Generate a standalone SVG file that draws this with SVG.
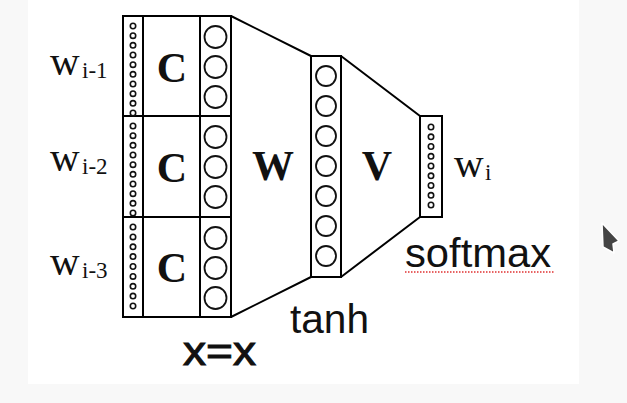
<svg xmlns="http://www.w3.org/2000/svg" width="627" height="403" viewBox="0 0 627 403">
<style>
.ln{fill:none;stroke:#000;stroke-width:2}
.big{fill:none;stroke:#111;stroke-width:1.8}
.dot{fill:none;stroke:#111;stroke-width:1.6}
.bold{font-family:"Liberation Serif",serif;font-weight:bold;font-size:42px;text-anchor:middle;fill:#111}
.lab{font-family:"Liberation Serif",serif;font-size:41px;fill:#111}
.sub{font-family:"Liberation Serif",serif;font-size:23px;fill:#111}
.sans{font-family:"Liberation Sans",sans-serif;font-size:40px;fill:#111}
</style>
<rect x="0" y="0" width="627" height="403" fill="#f8f8f8"/>
<rect x="28" y="0" width="551" height="384" fill="#fff"/>

<g id="connectors">
<path class="ln" d="M231,16 L311,56 M231,317 L311,277 M341,56 L420,116 M341,277 L420,217"/>
</g>

<g id="input-layer">
<rect class="ln" x="123" y="16" width="108" height="301"/>
<path class="ln" d="M143,16 V317 M200,16 V317 M123,116 H231 M123,217 H231"/>
<g class="dot">
<circle cx="133" cy="26" r="2.7"/><circle cx="133" cy="35.7" r="2.7"/><circle cx="133" cy="45.3" r="2.7"/><circle cx="133" cy="55" r="2.7"/><circle cx="133" cy="64.7" r="2.7"/><circle cx="133" cy="74.3" r="2.7"/><circle cx="133" cy="84" r="2.7"/><circle cx="133" cy="93.7" r="2.7"/><circle cx="133" cy="103.3" r="2.7"/><circle cx="133" cy="113" r="2.7"/>
<circle cx="133" cy="126" r="2.7"/><circle cx="133" cy="135.7" r="2.7"/><circle cx="133" cy="145.3" r="2.7"/><circle cx="133" cy="155" r="2.7"/><circle cx="133" cy="164.7" r="2.7"/><circle cx="133" cy="174.3" r="2.7"/><circle cx="133" cy="184" r="2.7"/><circle cx="133" cy="193.7" r="2.7"/><circle cx="133" cy="203.3" r="2.7"/><circle cx="133" cy="213" r="2.7"/>
<circle cx="133" cy="227" r="2.7"/><circle cx="133" cy="236.9" r="2.7"/><circle cx="133" cy="246.8" r="2.7"/><circle cx="133" cy="256.6" r="2.7"/><circle cx="133" cy="266.5" r="2.7"/><circle cx="133" cy="276.4" r="2.7"/><circle cx="133" cy="286.3" r="2.7"/><circle cx="133" cy="296.1" r="2.7"/><circle cx="133" cy="306" r="2.7"/>
</g>
<g class="big">
<circle cx="215.5" cy="37" r="11"/><circle cx="215.5" cy="67" r="11"/><circle cx="215.5" cy="97" r="11"/>
<circle cx="215.5" cy="137" r="11"/><circle cx="215.5" cy="167" r="11"/><circle cx="215.5" cy="197" r="11"/>
<circle cx="215.5" cy="238" r="11"/><circle cx="215.5" cy="268" r="11"/><circle cx="215.5" cy="298" r="11"/>
</g>
<text class="bold" x="172" y="82">C</text>
<text class="bold" x="172" y="182">C</text>
<text class="bold" x="172" y="282">C</text>
</g>

<g id="labels-in">
<text x="50" y="75"><tspan class="lab">w</tspan><tspan class="sub" x="82" y="78">i-1</tspan></text>
<text x="50" y="171"><tspan class="lab">w</tspan><tspan class="sub" x="82" y="174">i-2</tspan></text>
<text x="50" y="275"><tspan class="lab">w</tspan><tspan class="sub" x="82" y="278">i-3</tspan></text>
</g>

<g id="W-label"><text class="bold" x="273" y="180">W</text></g>

<g id="hidden-layer">
<rect class="ln" x="311" y="56" width="30" height="221"/>
<g class="big">
<circle cx="326" cy="76" r="10"/><circle cx="326" cy="106" r="10"/><circle cx="326" cy="136" r="10"/><circle cx="326" cy="166" r="10"/><circle cx="326" cy="196" r="10"/><circle cx="326" cy="226" r="10"/><circle cx="326" cy="256" r="10"/>
</g>
</g>

<g id="V-label"><text class="bold" x="377" y="180">V</text></g>

<g id="output-layer">
<rect class="ln" x="420" y="116" width="22" height="101"/>
<g class="dot">
<circle cx="431" cy="127" r="2.7"/><circle cx="431" cy="136.8" r="2.7"/><circle cx="431" cy="146.5" r="2.7"/><circle cx="431" cy="156.3" r="2.7"/><circle cx="431" cy="166" r="2.7"/><circle cx="431" cy="175.8" r="2.7"/><circle cx="431" cy="185.5" r="2.7"/><circle cx="431" cy="195.3" r="2.7"/><circle cx="431" cy="205" r="2.7"/>
</g>
<text x="454" y="177"><tspan class="lab">w</tspan><tspan class="sub" x="485" y="180">i</tspan></text>
</g>

<g id="captions">
<text class="sans" x="183" y="365" textLength="73" lengthAdjust="spacingAndGlyphs" style="stroke:#111;stroke-width:1">x=x</text>
<text class="sans" x="290" y="333" textLength="79" lengthAdjust="spacingAndGlyphs">tanh</text>
<text class="sans" x="405" y="267" textLength="146" lengthAdjust="spacingAndGlyphs">softmax</text>
<line x1="405" y1="272" x2="554" y2="272" stroke="#e03030" stroke-width="1.3" stroke-dasharray="1.5 1.5"/>
</g>

<g id="cursor">
<polygon points="602,223 619,241 613,244 614,253 603,247" fill="#444" stroke="#fff" stroke-width="1.5" stroke-linejoin="round"/>
</g>
</svg>
